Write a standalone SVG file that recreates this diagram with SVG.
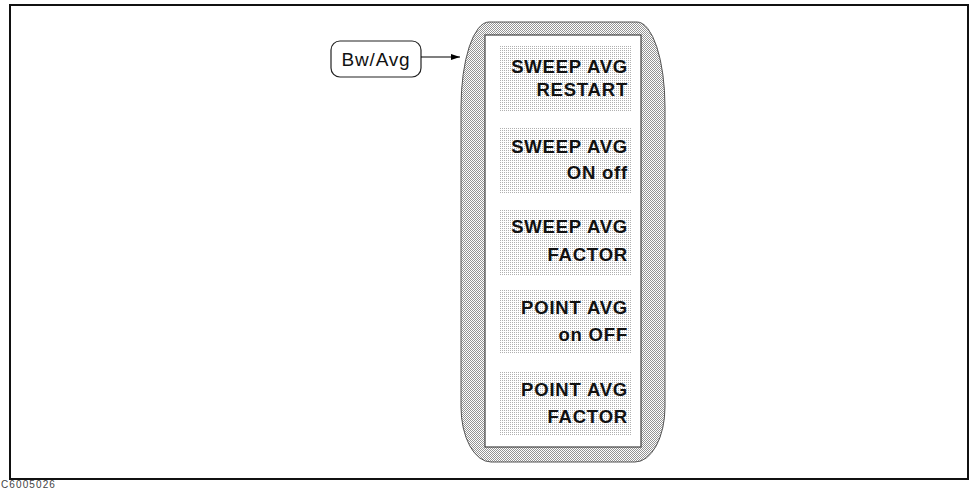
<svg xmlns="http://www.w3.org/2000/svg" width="974" height="491" viewBox="0 0 974 491">
<defs>
  <pattern id="dither" width="2" height="2" patternUnits="userSpaceOnUse">
    <rect width="2" height="2" fill="#ffffff"/>
    <rect x="0" y="0" width="1" height="1" fill="#949494"/>
    <rect x="1" y="1" width="1" height="1" fill="#949494"/>
  </pattern>
  <pattern id="dots" width="2" height="2" patternUnits="userSpaceOnUse">
    <rect width="2" height="2" fill="#ffffff"/>
    <rect x="0" y="0" width="1" height="1" fill="#b0b0b0"/>
  </pattern>
  <marker id="arrow" markerWidth="10" markerHeight="8" refX="9" refY="4" orient="auto" markerUnits="userSpaceOnUse">
    <path d="M0,1 L9,4 L0,7 Z" fill="#000"/>
  </marker>
  <style>
    .btn { fill: url(#dots); }
    .lbl { font-family: "Liberation Sans", Arial, sans-serif; font-size: 18.5px; font-weight: bold; letter-spacing: 0.8px; fill: #111; text-anchor: end; }
    .key { fill: #fff; stroke: #222; stroke-width: 1.2; }
    .keytxt { font-family: "Liberation Sans", Arial, sans-serif; font-size: 19px; letter-spacing: 0.8px; fill: #111; text-anchor: middle; }
    .conn { stroke: #000; stroke-width: 1.2; fill: none; }
  </style>
</defs>

<rect x="0" y="0" width="974" height="491" fill="#fff"/>

<g id="frame">
  <rect x="10" y="5" width="958" height="474" fill="none" stroke="#111" stroke-width="2"/>
</g>

<g id="menu">
  <path d="M 489 22 H 637 A 28 85 0 0 1 665 107 V 407 A 30 55 0 0 1 635 462 H 491 A 30 55 0 0 1 461 407 V 107 A 28 85 0 0 1 489 22 Z" fill="url(#dither)" stroke="#555" stroke-width="1"/>
  <rect x="485" y="35" width="156" height="412" fill="#fff" stroke="#444" stroke-width="1.2"/>
</g>

<g id="softkey1">
  <rect class="btn" x="499" y="46" width="133" height="65"/>
  <text class="lbl" x="628" y="73">SWEEP AVG</text>
  <text class="lbl" x="628" y="96">RESTART</text>
</g>
<g id="softkey2">
  <rect class="btn" x="499" y="128" width="133" height="65"/>
  <text class="lbl" x="628" y="153">SWEEP AVG</text>
  <text class="lbl" x="628" y="179">ON off</text>
</g>
<g id="softkey3">
  <rect class="btn" x="499" y="209" width="133" height="67"/>
  <text class="lbl" x="628" y="233">SWEEP AVG</text>
  <text class="lbl" x="628" y="261">FACTOR</text>
</g>
<g id="softkey4">
  <rect class="btn" x="499" y="290" width="133" height="63"/>
  <text class="lbl" x="628" y="314">POINT AVG</text>
  <text class="lbl" x="628" y="341">on OFF</text>
</g>
<g id="softkey5">
  <rect class="btn" x="499" y="372" width="133" height="63"/>
  <text class="lbl" x="628" y="396">POINT AVG</text>
  <text class="lbl" x="628" y="423">FACTOR</text>
</g>

<g id="bwavg">
  <rect class="key" x="331" y="41" width="90" height="36" rx="9" ry="9"/>
  <text class="keytxt" x="376" y="66">Bw/Avg</text>
</g>

<g id="connectors">
  <line class="conn" x1="421" y1="57" x2="460" y2="57" marker-end="url(#arrow)"/>
</g>

<text x="1" y="488" font-family="'Liberation Sans', Arial, sans-serif" font-size="10" letter-spacing="1.1" fill="#444">C6005026</text>
</svg>
